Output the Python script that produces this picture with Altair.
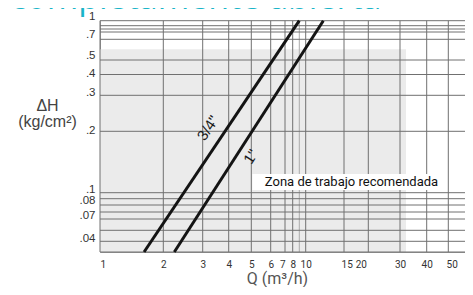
import altair as alt
import pandas as pd

# ---------------- data ----------------
SERIES = ['3/4"', '1"']
Q_LOW = [1.62, 2.24]          # Q (m3/h) where each line leaves the bottom
Q_HIGH = [9.0, 12.05]         # Q (m3/h) where each line reaches the top
DH_LOW = [0.03, 0.03]
DH_HIGH = [1.0, 1.0]

ZONE_Q = [1.0, 32.0]          # recommended working zone
ZONE_DH = [0.03, 0.55]
ZONE_TEXT = "Zona de trabajo recomendada"

Q_GRID = [1, 2, 3, 4, 5, 6, 7, 8, 10, 15, 20, 30, 40, 50]
Q_GRID_MINOR = [9, 60]
DH_GRID = [0.03, 0.04, 0.05, 0.06, 0.07, 0.08, 0.09, 0.1, 0.2, 0.3, 0.4, 0.5,
           0.6, 0.7, 0.8, 0.9, 1.0]
Q_TICKS = [1, 2, 3, 4, 5, 6, 7, 8, 10, 15, 20, 30, 40, 50]
DH_TICKS = [1, 0.7, 0.5, 0.4, 0.3, 0.2, 0.1, 0.08, 0.07, 0.04]

# annotation anchors (data coordinates)
SERIES_LABEL_Q = [3.18, 4.98]
SERIES_LABEL_DH = [0.2075, 0.150]
SERIES_LABEL_ANGLE = [304, 303]
ZONE_BOX_Q = [5.05, 48.3]
ZONE_BOX_DH = [0.103, 0.1235]
ZONE_TEXT_Q = [5.68]
ZONE_TEXT_DH = [0.1128]

TITLE = "completamente abierta"

# ---------------- scale layout (hand-drawn paper scale) ----------------
X_BREAKS = [1, 2, 3, 4, 5, 6, 7, 8, 9, 10, 15, 20, 30, 40, 50, 60, 62.6]
X_PIX = [0, 63.3, 102.7, 128.7, 151.3, 170.7, 185, 192.7, 199.3, 205.7, 244,
         268.3, 300, 326.7, 348.3, 368.3, 373]
Y_BREAKS = DH_GRID
Y_PIX = [231.3, 220.6, 209.6, 198.3, 191.3, 184.3, 178, 172, 110.6, 74.6,
         53.8, 39.3, 18.6, 11.3, 8.3, 5, 0]

W, H = 365, 231.3

x_scale = alt.Scale(type="log", domain=X_BREAKS, range=X_PIX, nice=False)
y_scale = alt.Scale(type="log", domain=Y_BREAKS, range=Y_PIX, nice=False)

x_axis = alt.Axis(
    values=Q_TICKS, format="~g", grid=False, ticks=False, tickSize=0,
    domain=True, domainColor="#999999", domainWidth=1,
    labelFont="Roboto", labelFontSize=10, labelColor="#333333",
    labelPadding=7, labelFlush=False, labelOverlap=False,
    labelOffset={"condition": [
        {"test": "datum.value == 20", "value": -7.5},
        {"test": "datum.value == 1", "value": 2.7},
        {"test": "datum.value == 50", "value": 3.4},
        {"test": "datum.value == 15", "value": 2.7},
        {"test": "datum.value == 7", "value": -2.7},
    ], "value": 0},
    title="Q (m³/h)", titleFont="Roboto", titleFontSize=16,
    titleFontWeight="normal", titleColor="#555555", titleX=177, titleY=31.5,
    titleBaseline="alphabetic", titleAlign="center",
)
y_axis = alt.Axis(
    values=DH_TICKS,
    labelExpr="datum.value >= 1 ? '1' : replace(format(datum.value, '~g'), '0.', '.')",
    grid=False, ticks=False, tickSize=0, domain=True,
    domainColor="#999999", domainWidth=1,
    labelFont="Liberation Sans", labelFontSize=11.5, labelColor="#333333",
    labelPadding=5, labelOverlap=False, labelFlush=False,
    labelOffset={"condition": [
        {"test": "datum.value == 0.07", "value": 3.3},
        {"test": "datum.value == 0.7", "value": 2.3},
        {"test": "datum.value == 0.4 || datum.value == 0.2", "value": -0.6},
        {"test": "datum.value == 1 || datum.value == 0.5 || datum.value == 0.08", "value": -4.6},
    ], "value": -3},
    title=["ΔH", "(kg/cm²)"], titleAngle=0, titleAlign="center",
    titleBaseline="alphabetic", titleX=-53, titleY=89.3,
    titleFont="Liberation Sans", titleFontSize=16, titleFontWeight="normal",
    titleColor="#444444", titleLineHeight=16,
)

X = lambda f: alt.X(f, type="quantitative", scale=x_scale, axis=x_axis)
Y = lambda f: alt.Y(f, type="quantitative", scale=y_scale, axis=y_axis)

# ---------------- tables ----------------
zone_df = pd.DataFrame({"Q": [ZONE_Q[0]], "Q2": [ZONE_Q[1]],
                        "dH": [ZONE_DH[0]], "dH2": [ZONE_DH[1]]})
vgrid_df = pd.DataFrame({"Q": Q_GRID})
vgrid_minor_df = pd.DataFrame({"Q": Q_GRID_MINOR})
hgrid_df = pd.DataFrame({"dH": DH_GRID,
                         "Q": [X_BREAKS[0]] * len(DH_GRID),
                         "Q2": [X_BREAKS[-1]] * len(DH_GRID)})
box_df = pd.DataFrame({"Q": [ZONE_BOX_Q[0]], "Q2": [ZONE_BOX_Q[1]],
                       "dH": [ZONE_BOX_DH[0]], "dH2": [ZONE_BOX_DH[1]]})
box_text_df = pd.DataFrame({"Q": ZONE_TEXT_Q, "dH": ZONE_TEXT_DH, "t": [ZONE_TEXT]})
rows = []
for s, q0, q1, d0, d1 in zip(SERIES, Q_LOW, Q_HIGH, DH_LOW, DH_HIGH):
    rows.append({"serie": s, "Q": q0, "dH": d0})
    rows.append({"serie": s, "Q": q1, "dH": d1})
lines_df = pd.DataFrame(rows)
lab_df = pd.DataFrame({"serie": SERIES, "Q": SERIES_LABEL_Q,
                       "dH": SERIES_LABEL_DH, "ang": SERIES_LABEL_ANGLE})

# ---------------- layers ----------------
zone = alt.Chart(zone_df).mark_rect(color="#ebebeb").encode(
    x=X("Q"), x2="Q2", y=Y("dH"), y2="dH2")

vgrid = alt.Chart(vgrid_df).mark_rule(color="#707070", strokeWidth=1).encode(x=X("Q"))
vgrid_minor = alt.Chart(vgrid_minor_df).mark_rule(color="#ababab", strokeWidth=1).encode(x=X("Q"))
hgrid = alt.Chart(hgrid_df).mark_rule(color="#707070", strokeWidth=1).encode(
    y=Y("dH"), x=X("Q"), x2="Q2")

box = alt.Chart(box_df).mark_rect(color="white").encode(
    x=X("Q"), x2="Q2", y=Y("dH"), y2="dH2")
box_text = alt.Chart(box_text_df).mark_text(
    align="left", baseline="middle", font="Roboto", fontSize=13, color="#111111"
).encode(x=X("Q"), y=Y("dH"), text="t:N")

lines = alt.Chart(lines_df).mark_line(color="#141414", strokeWidth=3, strokeCap="butt").encode(
    x=X("Q"), y=Y("dH"), detail="serie:N")

labels = alt.Chart(lab_df).mark_text(
    align="center", baseline="middle", font="Liberation Sans", fontSize=15, color="#1a1a1a"
).encode(x=X("Q"), y=Y("dH"), text="serie:N", angle=alt.Angle("ang:Q", scale=None))

title = alt.Chart(pd.DataFrame({"t": [TITLE]})).mark_text(
    align="left", baseline="alphabetic", font="Open Sans", fontSize=34,
    color="#19b4c8", clip=False
).encode(x=alt.value(-90), y=alt.value(-11.7), text="t:N")

chart = alt.layer(zone, vgrid, vgrid_minor, hgrid, box, box_text, lines, labels, title).properties(
    width=W, height=H,
    autosize=alt.AutoSizeParams(type="none"),
    padding={"left": 92, "top": 12.7, "right": 0, "bottom": 35},
    background="white",
).configure_view(stroke=None)

chart.save("out.html", embed_options={"renderer": "svg", "actions": False})
